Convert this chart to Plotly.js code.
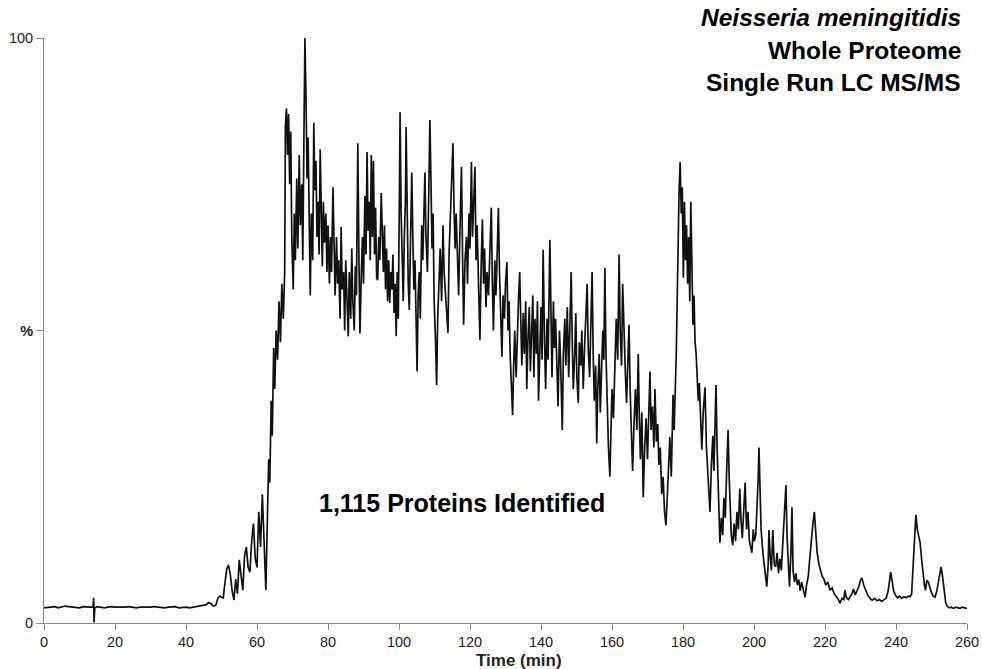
<!DOCTYPE html>
<html>
<head>
<meta charset="utf-8">
<script src="https://cdn.plot.ly/plotly-3.0.1.min.js"></script>
<style>html,body{margin:0;padding:0;background:#fff;}#chart{width:982px;height:669px;}</style>
</head>
<body>
<div id="chart"></div>
<script>
// Retention time (min) and relative intensity (%)
const timeA = [0,1,2,3,4,5,6,7,8,9,10,11,12,13,13.8,14,14.1,14.3,15,16,17,18,19,20,21,22,23,24,25,26,27,28,29,30,31,32,33,34,35,36,37,38,39,40,41,42,43,44,45];
const intA  = [2.6,2.7,2.7,2.8,2.6,2.7,2.9,2.8,2.7,2.7,2.6,2.8,2.7,2.7,2.7,4.3,0.1,2.6,2.8,2.7,2.6,2.7,2.8,2.7,2.7,2.6,2.7,2.8,2.7,2.6,2.7,2.7,2.6,2.7,2.8,2.7,2.7,2.6,2.7,2.7,2.8,2.6,2.7,2.7,2.6,2.7,2.8,2.9,3.0];

const timeB = [45.5,46,46.5,47,47.5,48,48.5,49,49.5,50,50.5,51,51.5,52,52.5,53,53.5,54,54.5,55,55.5,56,56.5,57,57.5,58,58.5,59,59.5,60,60.5,61,61.5,62,62.5,63,63.3,63.6,64,64.3,64.7,65,65.4,65.8,66.2,66.6,67,67.4,67.8,68];
const intB  = [3.1,3.3,3.5,3.3,3.0,2.9,3.2,4.3,4.6,4.4,4.3,7.0,9.3,9.9,8.2,5.5,3.9,7.5,5.0,10.8,8.0,5.6,11.5,13,9.5,8.7,14,17,11,9.5,19,13,22,15,5.6,20,28,24,38,32,47,40,50,45,55,48,58,52,60,85];

const timeC = [68.3,68.6,68.9,69.2,69.5,69.8,70.2,70.5,70.8,71.2,71.5,71.9,72.2,72.6,72.9,73.2,73.5,73.8,74.1,74.4,74.7,75,75.3,75.7,76,76.3,76.6,76.9,77.2,77.5,77.8,78.1,78.4,78.7,79,79.4,79.7,80,80.4,80.7,81,81.4,81.7,82,82.4,82.7,83,83.4,83.7,84,84.4,84.7,85,85.4,85.7,86,86.4,86.7,87,87.4,87.7,88,88.4,88.7,89,89.4,89.7,90,90.4,90.7,91,91.3,91.6,91.9,92.2,92.5,92.8,93.1,93.4,93.7,94,94.3,94.6,95,95.3,95.6,95.9,96.2,96.5,96.8,97.1,97.4,97.7,98,98.3,98.6,98.9,99.2,99.5,99.8,100.1,100.3,100.6,100.9];
const intC  = [88,80,87,75,84,66,57,70,62,76,64,80,68,75,62,82,100,90,76,83,66,56,70,62,85.5,74,79,66,72,63,81,70,61,72,65,70,60,68,58,66,60,74.5,64,56,66,58,62,52,67.7,57,60,50,62,55,49,60,52,64,55,50,61,56,82,63,49.5,60,66,58,73,63,80.5,67,72,62,80,66,79,63,71,59,58.6,66,62,73.5,65,60,68,57,64,55,62,54.7,60,57,63,53,58,49,60,52,72,87.3,70,62];

const timeD = [101.2,101.5,101.8,102,102.3,102.6,102.9,103.2,103.6,103.9,104.2,104.5,104.8,105.1,105.4,105.7,106,106.4,106.7,107,107.3,107.6,108,108.4,108.7,109,109.3,109.6,109.9,110.3,110.6,110.9,111.2,111.6,112,112.4,112.7,113,113.4,113.8,114.1,114.5,114.8,115.2,115.5,115.8,116.1,116.5,116.8,117.2,117.6,117.9,118.2,118.6,119,119.3,119.7,120,120.4,120.7,121,121.4,121.7,122,122.4,122.8,123.1,123.5,123.8,124.1,124.5,124.8,125.2,125.6,126,126.3,126.6,127,127.3,127.7,128,128.3,128.6,129,129.3,129.7,130,130.4,130.7,131,131.3,131.7,132,132.3,132.6,133,133.4,133.7,134,134.3,134.6,135,135.3,135.7,136,136.3,136.7,137,137.3,137.7,138,138.3,138.7,139,139.3,139.7,140,140.3,140.6,141];
const intD  = [55,66,72,84.8,68,58,53.5,64,77,66,57,62,50,43,56,60,52,68,62,72,77,66,60,74,86,76,64,70,55,48,40.7,52,58,64,55,68,60,57,52,49.6,63,70,74,82,71,64,70,62,56,68,78,63,51,62,66,58,70,64,78.8,66,72,78,62,68,58,48.4,60,69,58,64,54,60,56,66,71,58,50,62,56,64,71,60,52,45.5,56,52,58,61.7,50,55,46,40,35.5,44,50,42,52,56,60,50,44,53,46,55,40,48,54,43,50,56,42,52,46,55,38,48,54,45,63.8,48];

const timeE = [141.3,141.7,142,142.5,142.8,143.1,143.5,143.8,144.1,144.5,144.8,145.2,145.5,146,146.3,146.7,147,147.4,147.8,148.1,148.5,148.8,149.1,149.5,149.8,150.1,150.5,150.8,151.2,151.5,151.9,152.2,152.6,153,153.3,153.7,154,154.4,154.7,155,155.4,155.7,156,156.4,156.7,157,157.4,157.7,158,158.3,158.7,159,159.4,159.7,160,160.4,160.8,161.2,161.6,162,162.3,162.7,163,163.4,163.8,164.1,164.5,164.8,165.1,165.5,165.8,166.2,166.6,167,167.4,167.7,168,168.4,168.8,169.2,169.6,170,170.3,170.7,171,171.4,171.8,172.1,172.5,172.9,173.2,173.6,174,174.4,174.8,175.2,175.6,176,176.3,176.7,177,177.2,177.5,177.8,178.1,178.3];
const intE  = [40,52,45,65.5,50,42,55,47,52,44,37,50,45,33,46,52,44,54,42,50,60,48,40,46,53,42,37.6,48,44,50,40,46,52,58,47,42,50,60,46,38,44,30.7,40,46,36,44,50,45,60.7,46,36,30,25,34,40,35,46,52,45,63,50,44,58,48,42,37.6,45,51,40,32,26,34,40,33,46,35,28,36,21.5,30,35,28,36,43,33,37,30,40,31,34,27,30,22,25,19,16.7,22,27,31.8,25,32,39,33,38.6,46,53];

const timeF = [178.6,178.9,179.2,179.5,179.8,180.1,180.4,180.7,181,181.3,181.6,181.9,182.2,182.5,182.8,183.1,183.4,183.7,184,184.3,184.6,184.9,185.3,185.7,186.2,186.6,187,187.3,187.6,188,188.4,188.7,189,189.3,189.6,190,190.4,190.8,191.2,191.5,191.9,192.3,192.7,193,193.3,193.6,194,194.4,194.8,195.2,195.6,196,196.3,196.7,197,197.5,197.9,198.3,198.7,199.1,199.4,199.8,200.1,200.5,200.9,201.2,201.4,201.7,202,202.5,202.9,203.2,203.6,204,204.2,204.6,204.9,205.3,205.7,206.1,206.5,206.9,207.3,207.7,208.1,208.5,209,209.3,209.7,210,210.4,210.7,211,211.4,211.8,212.2,212.6,213,213.4,213.8,214.4,214.8,215.3];
const intF  = [67,74,78.8,70,74.5,59,72,62,68,58,66,55,72,60,51,56,48,46,42.7,38,41,34,29.6,36,40.3,30,25,22,19,27,32,26,35,40.7,30,20,13.7,18,15,21.4,18,26,33,25,19,15,13.3,17,14,19,16,23,18,14.5,18,24,16,19,14,13,12,16,14,15,20,25,30,20,16,12,10,8,6.2,10,15.9,11,9,15.9,10,9.6,12,8.5,11,9,13,18,23.6,15,9,6.2,12,19.8,9,7,8.5,6.5,7.4,5.5,7,5.8,4.4,6.5,8];

const timeG = [215.7,216.2,216.6,217,217.4,217.8,218.3,218.7,219.2,219.7,220.2,220.8,221.4,222,222.6,223.2,223.8,224.2,224.8,225.3,225.6,226,226.6,227.2,227.6,228,228.5,229,229.5,230,230.4,230.9,231.4,232,232.7,233.3,234,234.7,235.3,236,236.6,237.2,237.8,238.2,238.5,238.9,239.3,239.8,240.4,241,241.6,242.2,242.8,243.4,244,244.4,244.8,245.2,245.6,246,246.4,246.8,247.2,247.6,248,248.3,248.7,249.1,249.5,250,250.5,251,251.5,252,252.4,252.7,253.1,253.5,254,254.4,255,255.6,256.2,256.8,257.4,258,258.6,259.2,260];
const intG  = [11,15,17,19,15,12,10,9,8,7.5,6.5,7,5.6,6,5,4.5,4,3.4,4.2,4,5.6,4.4,4,4.6,5,5.8,4.8,5.5,6.2,7.3,7.7,6.5,5.6,4.8,4.2,3.9,4.2,3.8,4.0,3.7,4.0,4.2,5.5,7.5,8.7,7.2,5.6,4.8,4.3,4.6,4.2,4.5,4.3,4.6,4.5,5,10,16,18.5,16,14.5,13.7,11,8.5,6.5,5.6,7.3,7.0,6.0,5.2,4.6,4.4,5.5,7.5,9,9.6,8,5.5,3.5,2.9,2.6,2.7,2.5,2.7,2.6,2.5,2.7,2.6,2.5];

const xTicks = [0,20,40,60,80,100,120,140,160,180,200,220,240,260];
const yTickVals = [0,50,100];
const yTickText = ['0','<b>%</b>','100'];

const titleLines = ['<b><i>Neisseria meningitidis</i></b>','<b>Whole Proteome</b>','<b>Single Run LC MS/MS</b>'];
const noteText = '<b>1,115 Proteins Identified</b>';
const xTitle = '<b>Time (min)</b>';

const time = [].concat(timeA,timeB,timeC,timeD,timeE,timeF,timeG);
const intensity = [].concat(intA,intB,intC,intD,intE,intF,intG);

const font = 'Arial, "Liberation Sans", sans-serif';

const trace = {
  x: time, y: intensity, type: 'scatter', mode: 'lines',
  line: {color: '#111', width: 1.7},
  hoverinfo: 'skip', showlegend: false
};

const annotations = titleLines.map((t, i) => ({
  text: t, xref: 'paper', yref: 'paper', x: (963 - 44) / 923, y: (623 - (18 + i*32.5)) / 585,
  xanchor: 'right', yanchor: 'middle', showarrow: false,
  font: {family: font, size: 24.5, color: '#000'}
}));
annotations.push({
  text: noteText, xref: 'paper', yref: 'paper', x: (462 - 44) / 923, y: (623 - 503) / 585,
  xanchor: 'center', yanchor: 'middle', showarrow: false,
  font: {family: font, size: 25, color: '#000'}
});
annotations.push({
  text: xTitle, xref: 'paper', yref: 'paper', x: (519 - 44) / 923, y: (623 - 660) / 585,
  xanchor: 'center', yanchor: 'middle', showarrow: false,
  font: {family: font, size: 17, color: '#222'}
});

const layout = {
  width: 982, height: 669,
  margin: {l: 44, r: 15, t: 38, b: 46, pad: 0},
  paper_bgcolor: '#fff', plot_bgcolor: '#fff',
  font: {family: font, size: 14, color: '#222'},
  xaxis: {
    range: [0, 260], tickvals: xTicks, ticktext: xTicks.map(String),
    showgrid: false, zeroline: false, showline: true, linecolor: '#8a8a8a', linewidth: 1,
    ticks: 'outside', ticklen: 6, tickcolor: '#8a8a8a', tickwidth: 1,
    tickfont: {family: font, size: 14.5, color: '#222'}
  },
  yaxis: {
    range: [0, 100], tickvals: yTickVals, ticktext: yTickText,
    showgrid: false, zeroline: false, showline: true, linecolor: '#8a8a8a', linewidth: 1,
    ticks: 'outside', ticklen: 7, tickcolor: '#8a8a8a', tickwidth: 1,
    tickfont: {family: font, size: 14.5, color: '#222'}
  },
  annotations: annotations
};

Plotly.newPlot('chart', [trace], layout, {displayModeBar: false, staticPlot: true});
</script>
</body>
</html>
